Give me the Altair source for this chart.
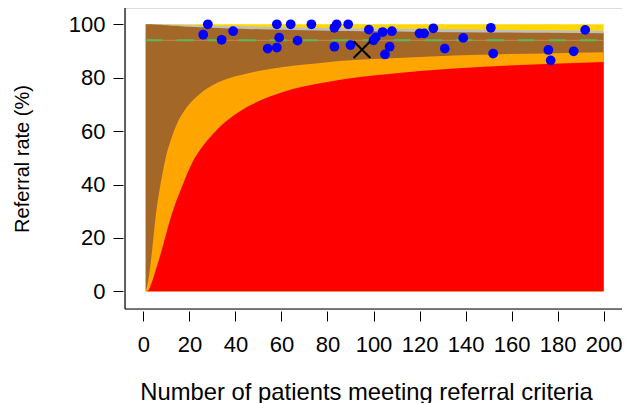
import altair as alt
import pandas as pd

# ---- funnel limits ----
n_grid = [1, 1.5, 2, 2.5, 3, 3.5, 4, 5, 6, 7, 8, 9, 10, 11, 12, 13.5, 15, 17.5, 20, 22.5, 25, 27.5,
          30, 35, 40, 45, 50, 60, 70, 80, 90, 100, 120, 150, 175, 200]
lower_998 = [0, 0.05, 0.3, 0.9, 1.9, 3, 4.3, 7, 9.8, 12.6, 15.6, 18.8, 21.9, 25, 28, 31.9, 35.4, 40.8,
             46, 50.2, 53.5, 56.2, 58.7, 63, 66.3, 69, 71.2, 74.5, 76.8, 78.4, 79.8, 80.8, 82.5, 84.2, 85.1, 85.9]
lower_95 = [0.3, 1.5, 3.5, 6.2, 9.5, 13.3, 17.3, 25.6, 32.5, 38, 42.8, 47.3, 51.2, 54.2, 56.9, 60.5, 63.6,
            67.3, 70.2, 72.4, 74.3, 75.9, 77.2, 79.1, 80.5, 81.6, 82.5, 83.9, 84.9, 85.8, 86.5, 87.0, 87.8,
            88.7, 89.1, 89.5]
upper_95 = [100, 100, 100, 100, 100, 99.98, 99.95, 99.9, 99.85, 99.8, 99.75, 99.68, 99.6, 99.55, 99.5,
            99.42, 99.35, 99.22, 99.1, 98.97, 98.85, 98.77, 98.7, 98.55, 98.4, 98.27, 98.15, 97.95, 97.77,
            97.6, 97.47, 97.35, 97.15, 96.95, 96.8, 96.65]
upper_998 = [100, 100, 100, 100, 100, 100, 100, 100, 100, 99.98, 99.97, 99.95, 99.92, 99.9, 99.87, 99.84,
             99.8, 99.75, 99.7, 99.62, 99.55, 99.5, 99.45, 99.35, 99.25, 99.16, 99.07, 98.9, 98.75, 98.6,
             98.5, 98.4, 98.2, 97.95, 97.75, 97.6]
ceiling = [100] * len(n_grid)

# ---- units ----
unit_n = [26, 28, 34, 39, 54, 58, 58, 59, 64, 67, 73, 83, 84, 89, 83, 90, 98, 100, 101, 104,
          108, 107, 105, 120, 122, 126, 131, 139, 151, 152, 176, 177, 187, 192]
unit_rate = [96.1, 100, 94.2, 97.4, 90.9, 91.3, 100, 95.0, 100, 93.9, 100, 98.7, 100, 100, 91.6, 92.2, 98.0, 94.0, 95.1, 97.1,
             97.4, 91.6, 88.7, 96.6, 96.6, 98.5, 90.9, 94.9, 98.7, 89.0, 90.4, 86.5, 89.9, 97.9]
highlight_n = [95]
highlight_rate = [90.5]
target_n = [1, 200]
target_rate = [94.0, 94.0]

x_ticks = [0, 20, 40, 60, 80, 100, 120, 140, 160, 180, 200]
y_ticks = [0, 20, 40, 60, 80, 100]

band_colors = ["#FFD700", "#BEBEBE", "#A36828", "#FFA500", "#FF0000"]
band_tops = [ceiling, upper_998, upper_95, lower_95, lower_998]

W, H = 497, 301
FONT = "Liberation Sans"

xdef = alt.X("n:Q", scale=alt.Scale(domain=[-8, 208], nice=False, zero=False),
             axis=alt.Axis(values=x_ticks, tickSize=10, offset=2, domain=False, grid=False,
                           labelFontSize=22, labelPadding=13, labelColor="black", tickColor="black",
                           labelFlush=False, labelOverlap=False, format="d",
                           title="Number of patients meeting referral criteria", titleFontSize=23.8,
                           titleFontWeight="normal", titleColor="black", titleY=88, titleX=241,
                           titleAlign="center", titleBaseline="alphabetic"))
ydef = alt.Y("v:Q", scale=alt.Scale(domain=[-6.6, 106.1], nice=False, zero=False),
             axis=alt.Axis(values=y_ticks, tickSize=10, offset=2, domain=False, grid=False,
                           labelFontSize=22, labelPadding=8, labelColor="black", tickColor="black",
                           labelFlush=False, format="d",
                           title="Referral rate (%)", titleFontSize=20, titleFontWeight="normal",
                           titleColor="black", titleX=-101, titleBaseline="middle"))

layers = []
for col, tops in zip(band_colors, band_tops):
    df = pd.DataFrame({"n": n_grid, "v": tops, "b": [0] * len(n_grid)})
    layers.append(
        alt.Chart(df).mark_area(interpolate="monotone", color=col, opacity=1, strokeWidth=0)
        .encode(x=xdef, y=ydef, y2="b:Q")
    )

tdf = pd.DataFrame({"n": target_n, "v": target_rate})
layers.append(alt.Chart(tdf).mark_line(color="#C49A60", strokeWidth=1, opacity=0.7).encode(x=xdef, y=ydef))
layers.append(alt.Chart(tdf).mark_line(color="#5CB85C", strokeWidth=2, strokeDash=[17, 14]).encode(x=xdef, y=ydef))

udf = pd.DataFrame({"n": unit_n, "v": unit_rate})
layers.append(alt.Chart(udf).mark_circle(size=95, color="#0000FF", opacity=1).encode(x=xdef, y=ydef))

hdf = pd.DataFrame({"n": highlight_n, "v": highlight_rate})
layers.append(alt.Chart(hdf).mark_point(shape="M-1,-1L1,1M-1,1L1,-1", size=280, filled=False,
                                        strokeWidth=2, color="black", opacity=1).encode(x=xdef, y=ydef))

one = pd.DataFrame({"a": [0]})
layers.append(alt.Chart(one).mark_rule(color="black", strokeWidth=1.2).encode(
    x=alt.value(0), y=alt.value(0), y2=alt.value(H)))
layers.append(alt.Chart(one).mark_rule(color="black", strokeWidth=1.2).encode(
    x=alt.value(0), x2=alt.value(W), y=alt.value(H)))

chart = alt.layer(*layers).properties(
    width=W, height=H,
    autosize=alt.AutoSizeParams(type="none"),
    padding={"left": 117, "top": 0, "right": 0, "bottom": 94},
).configure_view(stroke=None).configure(font=FONT)

chart.save("out.html", embed_options={"renderer": "svg", "actions": False})
